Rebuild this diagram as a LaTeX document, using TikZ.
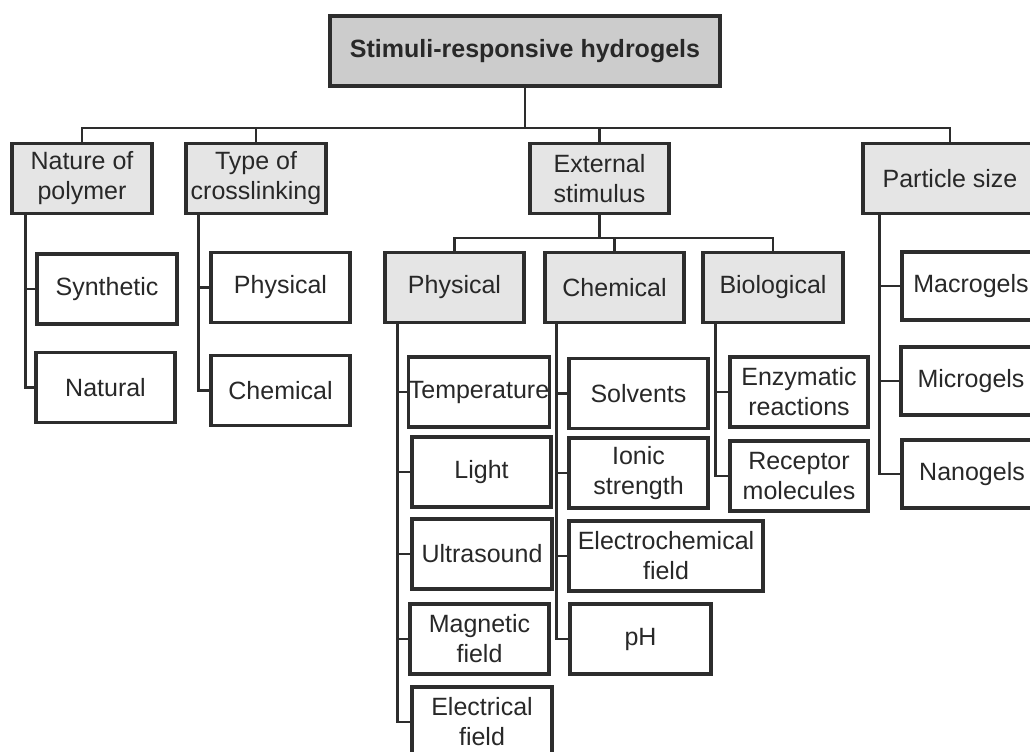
\documentclass[tikz,border=0pt]{standalone}
\usepackage{fontspec}
\setmainfont{Liberation Sans}
\definecolor{linec}{RGB}{45,45,45}
\definecolor{txtc}{RGB}{40,40,40}
\definecolor{topg}{RGB}{204,204,204}
\definecolor{lightg}{RGB}{229,229,229}
\begin{document}
\begin{tikzpicture}[x=0.75pt,y=-0.75pt,
  box/.style={draw=linec, line width=2.3pt, fill=white, text=txtc, inner sep=0pt,
    align=center, minimum width=104.25pt, minimum height=52.5pt,
    font=\fontsize{18.75}{22.5}\selectfont},
  gbox/.style={box, fill=lightg},
  conn/.style={draw=linec, line width=1.6pt}]
\useasboundingbox (0,0) rectangle (1030,751);
\fill[white] (0,0) rectangle (1030,751);
\clip (0,0) rectangle (1030,751);

% nodes
\node[box, fill=topg, minimum width=292.5pt, font=\fontsize{18.75}{22.5}\selectfont\bfseries] (top) at (525,51) {Stimuli-responsive hydrogels};
\node[gbox, minimum width=105pt] (nature) at (82,178.5) {Nature of\\polymer};
\node[gbox, minimum width=105pt] (type) at (256,178.5) {Type of\\crosslinking};
\node[gbox] (ext) at (599.5,178.5) {External\\stimulus};
\node[gbox, minimum width=130.5pt] (particle) at (950,178.5) {Particle size};

\node[box, minimum width=105pt] (syn) at (107,289) {Synthetic};
\node[box] (nat) at (105.5,387.5) {Natural};
\node[box] (phys1) at (280.5,287.5) {Physical};
\node[box] (chem1) at (280.5,390.5) {Chemical};

\node[gbox] (gphys) at (454.5,287.5) {Physical};
\node[gbox] (gchem) at (614.5,287.5) {Chemical};
\node[gbox, minimum width=105pt] (gbio) at (773,287.5) {Biological};

\node[box, minimum width=103.5pt] (temp) at (479,392) {Temperature};
\node[box] (light) at (481.5,472) {Light};
\node[box, minimum width=105pt] (ultra) at (482,554) {Ultrasound};
\node[box] (magn) at (479.5,639) {Magnetic\\field};
\node[box, minimum width=105pt] (elec) at (482,722) {Electrical\\field};

\node[box] (solv) at (638.5,393.5) {Solvents};
\node[box] (ionic) at (638.5,473) {Ionic\\strength};
\node[box, minimum width=145.5pt] (echem) at (666,556) {Electrochemical\\field};
\node[box, minimum width=105.75pt] (ph) at (640.5,639) {pH};

\node[box, minimum width=103.5pt] (enz) at (799,392) {Enzymatic\\reactions};
\node[box, minimum width=103.5pt] (rec) at (799,476) {Receptor\\molecules};

\node[box, minimum width=103.5pt, minimum height=51pt] (macro) at (971,286) {Macrogels};
\node[box, minimum width=105pt, minimum height=51pt] (micro) at (971,381) {Microgels};
\node[box, minimum width=105pt, minimum height=51pt] (nano) at (972,474) {Nanogels};

% top level connectors
\coordinate (bus) at (0,128);
\draw[conn] (top.south) -- (top.south |- bus);
\draw[conn] (nature.north) |- (particle.north |- bus) -- (particle.north);
\draw[conn] (type.north) -- (type.north |- bus);
\draw[conn] (ext.north) -- (ext.north |- bus);

% nature of polymer
\coordinate (nv) at ([shift={(15,0)}]nature.south west);
\draw[conn] (nv) |- (nat.west);
\draw[conn] (syn.west) -- (syn.west -| nv);

% type of crosslinking
\coordinate (tv) at ([shift={(14,0)}]type.south west);
\draw[conn] (tv) |- (chem1.west);
\draw[conn] (phys1.west) -- (phys1.west -| tv);

% external stimulus
\coordinate (ebus) at (0,238);
\draw[conn] (ext.south) -- (ext.south |- ebus);
\draw[conn] (gphys.north) |- (gbio.north |- ebus) -- (gbio.north);
\draw[conn] (gchem.north) -- (gchem.north |- ebus);

% physical
\coordinate (pv) at ([shift={(14,0)}]gphys.south west);
\draw[conn] (pv) |- (elec.west);
\draw[conn] (temp.west) -- (temp.west -| pv);
\draw[conn] (light.west) -- (light.west -| pv);
\draw[conn] (ultra.west) -- (ultra.west -| pv);
\draw[conn] (magn.west) -- (magn.west -| pv);

% chemical
\coordinate (cv) at ([shift={(13,0)}]gchem.south west);
\draw[conn] (cv) |- (ph.west);
\draw[conn] (solv.west) -- (solv.west -| cv);
\draw[conn] (ionic.west) -- (ionic.west -| cv);
\draw[conn] (echem.west) -- (echem.west -| cv);

% biological
\coordinate (bv) at ([shift={(14,0)}]gbio.south west);
\draw[conn] (bv) |- (rec.west);
\draw[conn] (enz.west) -- (enz.west -| bv);

% particle size
\coordinate (sv) at ([shift={(18,0)}]particle.south west);
\draw[conn] (sv) |- (nano.west);
\draw[conn] (macro.west) -- (macro.west -| sv);
\draw[conn] (micro.west) -- (micro.west -| sv);
\end{tikzpicture}
\end{document}
